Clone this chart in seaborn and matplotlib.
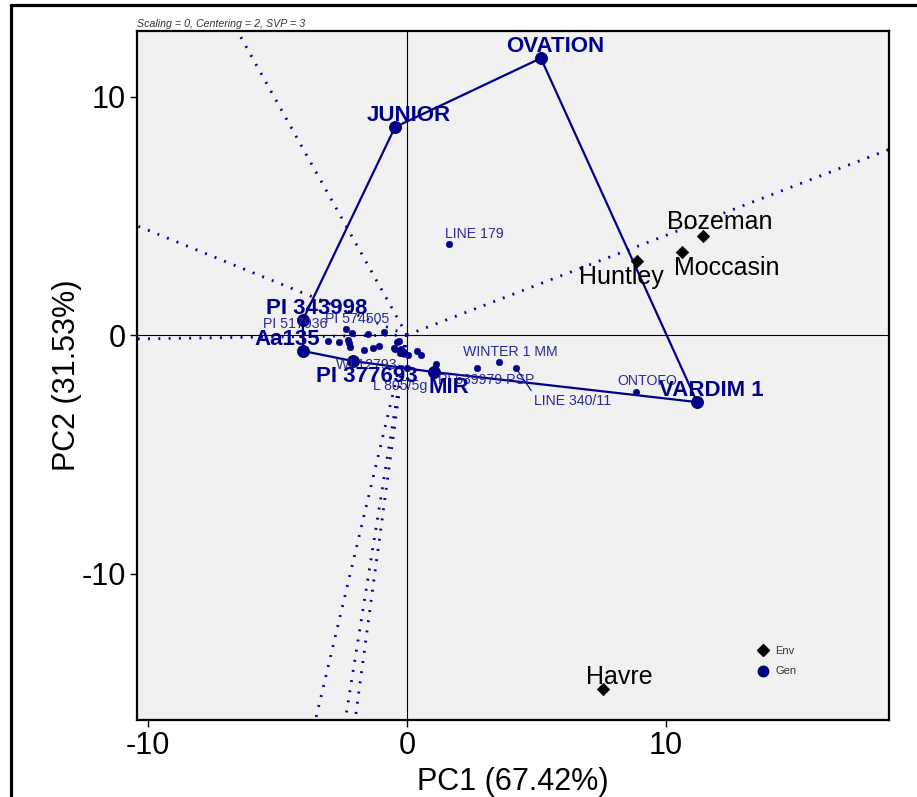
import numpy as np
import pandas as pd
import matplotlib
matplotlib.use("Agg")
import matplotlib.pyplot as plt
from matplotlib.lines import Line2D
import seaborn as sns

# ---- genotype scores (PC1, PC2) ----
gen_labels = [
    "OVATION", "JUNIOR", "PI 343998", "Aa135", "PI 377693", "MIR", "VARDIM 1",
    "LINE 179", "WINTER 1 MM", "PI 639979 PSP", "LINE 340/11", "ONTOFO",
    "PI 517936", "PI 574505", "WI 12793", "L 805/5g",
    "", "", "", "", "", "", "", "", "", "", "", "", "", "", "", "", "", "",
]
gen_pc1 = [
    5.17, -0.46, -4.02, -4.00, -2.08, 1.04, 11.20,
    1.62, 3.55, 2.70, 4.21, 8.84,
    -3.05, -1.51, -1.08, 0.00,
    -2.63, -2.36, -2.28, -2.24, -2.20, -2.12, -1.66, -1.31, -0.89, -0.50,
    -0.39, -0.31, -0.46, -0.23, -0.12, -0.27, 0.04, 0.39,
]
gen_pc2 = [
    11.61, 8.72, 0.63, -0.67, -1.09, -1.55, -2.81,
    3.82, -1.13, -1.38, -1.38, -2.39,
    -0.25, 0.04, -0.46, -1.36,
    -0.29, 0.25, -0.21, -0.34, -0.50, 0.08, -0.63, -0.55, 0.13, -0.55,
    -0.29, -0.25, -0.59, -0.59, -0.71, -0.75, -0.84, -0.67,
]
extra_pc1 = [0.54, 1.12]
extra_pc2 = [-0.84, -1.22]

# ---- environment scores ----
env_labels = ["Bozeman", "Moccasin", "Huntley", "Havre"]
env_pc1 = [11.44, 10.61, 8.89, 7.57]
env_pc2 = [4.16, 3.47, 3.10, -14.84]

x_ticks = [-10, 0, 10]
y_ticks = [-10, 0, 10]
x_title = "PC1 (67.42%)"
y_title = "PC2 (31.53%)"
subtitle = "Scaling = 0, Centering = 2, SVP = 3"

NAVY = "#00008B"

gen = pd.DataFrame({"label": gen_labels + [""] * len(extra_pc1),
                    "PC1": gen_pc1 + extra_pc1,
                    "PC2": gen_pc2 + extra_pc2})
env = pd.DataFrame({"label": env_labels, "PC1": env_pc1, "PC2": env_pc2})


def convex_hull(xy):
    """Indices of the convex hull (counter-clockwise, monotone chain)."""
    order = sorted(range(len(xy)), key=lambda i: (xy[i][0], xy[i][1]))

    def cross(o, a, b):
        return ((xy[a][0] - xy[o][0]) * (xy[b][1] - xy[o][1])
                - (xy[a][1] - xy[o][1]) * (xy[b][0] - xy[o][0]))

    lower, upper = [], []
    for i in order:
        while len(lower) >= 2 and cross(lower[-2], lower[-1], i) <= 0:
            lower.pop()
        lower.append(i)
    for i in reversed(order):
        while len(upper) >= 2 and cross(upper[-2], upper[-1], i) <= 0:
            upper.pop()
        upper.append(i)
    return lower[:-1] + upper[:-1]


pts = gen[["PC1", "PC2"]].to_numpy()
hull = convex_hull(pts.tolist())
gen["vertex"] = False
gen.loc[hull, "vertex"] = True

sns.set_theme(style="white")
plt.rcParams["font.family"] = ["Liberation Sans", "DejaVu Sans"]
plt.rcParams["axes.unicode_minus"] = False

fig = plt.figure(figsize=(9.17, 7.97), dpi=100)
ax = fig.add_axes([137 / 917, 1 - 720 / 797, 752 / 917, 689 / 797])
ax.set_facecolor("#F1F1F1")
ax.set_xlim(-10.42, 18.61)
ax.set_ylim(-16.14, 12.75)

# reference axes through the origin
ax.axhline(0, color="black", lw=0.8, zorder=1)
ax.axvline(0, color="black", lw=0.8, zorder=1)

# rays from the origin, perpendicular to every polygon side
for a, b in zip(hull, hull[1:] + hull[:1]):
    d = pts[b] - pts[a]
    n = np.array([d[1], -d[0]])
    n = n / np.hypot(*n) * 60
    ax.plot([0, n[0]], [0, n[1]], color=NAVY, lw=2.0,
            linestyle=(0, (0.7, 3.0)), zorder=2)

# polygon of the vertex genotypes
poly = pts[hull + hull[:1]]
ax.plot(poly[:, 0], poly[:, 1], color=NAVY, lw=1.6, zorder=3)

# points
sns.scatterplot(data=gen[~gen["vertex"]], x="PC1", y="PC2", ax=ax, s=22,
                color=NAVY, edgecolor=NAVY, linewidth=0.4, legend=False, zorder=4)
sns.scatterplot(data=gen[gen["vertex"]], x="PC1", y="PC2", ax=ax, s=75,
                color=NAVY, edgecolor="#000044", linewidth=0.6, legend=False, zorder=5)
sns.scatterplot(data=env, x="PC1", y="PC2", ax=ax, s=40, marker="D",
                color="black", edgecolor="black", legend=False, zorder=5)

# label offsets in pixels (dx, dy)
small_offsets = {
    "LINE 179": (25, 10), "PI 517936": (-33, 17), "PI 574505": (-11, 15),
    "WI 12793": (-13, -19), "L 805/5g": (-7, -18), "WINTER 1 MM": (11, 10),
    "PI 639979 PSP": (9, -12), "LINE 340/11": (57, -33), "ONTOFO": (11, 11),
}
big_offsets = {
    "OVATION": (14, 12), "JUNIOR": (14, 12), "PI 343998": (14, 12),
    "Aa135": (-16, 12), "PI 377693": (14, -15), "MIR": (15, -15),
    "VARDIM 1": (14, 12),
}
env_offsets = {
    "Bozeman": (16, 14), "Moccasin": (45, -16), "Huntley": (-16, -16),
    "Havre": (16, 12),
}

for _, r in gen.iterrows():
    if r["label"] in small_offsets:
        off = small_offsets[r["label"]]
        kw = {}
        if r["label"] == "LINE 340/11":
            kw["arrowprops"] = dict(arrowstyle="-", color=NAVY, lw=0.8,
                                    shrinkA=0, shrinkB=0, relpos=(0.0, 0.9))
        ax.annotate(r["label"], (r["PC1"], r["PC2"]), xytext=off,
                    textcoords="offset pixels", ha="center", va="center",
                    fontsize=10.2, color="#2A2A9A", zorder=6, **kw)

for _, r in gen.iterrows():
    if r["label"] in big_offsets:
        ax.annotate(r["label"], (r["PC1"], r["PC2"]), xytext=big_offsets[r["label"]],
                    textcoords="offset pixels", ha="center", va="center",
                    fontsize=16, fontweight="bold", color=NAVY, zorder=7)

for _, r in env.iterrows():
    ax.annotate(r["label"], (r["PC1"], r["PC2"]), xytext=env_offsets[r["label"]],
                textcoords="offset pixels", ha="center", va="center",
                fontsize=18, color="black", zorder=7)

# axes styling
ax.set_xticks(x_ticks)
ax.set_yticks(y_ticks)
ax.tick_params(axis="both", which="major", direction="out", length=5, width=1,
               color="black", labelsize=22, labelcolor="black", pad=3,
               bottom=True, left=True)
for sp in ax.spines.values():
    sp.set_color("black")
    sp.set_linewidth(1.6)
ax.set_xlabel(x_title, fontsize=22, color="black", labelpad=4)
ax.set_ylabel(y_title, fontsize=22, color="black", labelpad=0)

# legend
handles = [
    Line2D([], [], marker="D", color="black", linestyle="none", markersize=6),
    Line2D([], [], marker="o", color=NAVY, markeredgecolor="#000044",
           linestyle="none", markersize=7.5),
]
ax.legend(handles, ["Env", "Gen"], loc="upper left", bbox_to_anchor=(0.81, 0.122),
          frameon=False, fontsize=8, labelcolor="#333333", handletextpad=0.5,
          labelspacing=0.95, handlelength=1.2)

fig.text(137 / 917, 1 - 24 / 797, subtitle, fontsize=7.7, style="italic",
         color="#333333", ha="left", va="center")

# outer frame
fig.add_artist(Line2D([11 / 917, 11 / 917], [0, 1 - 5 / 797], color="black", lw=2.3))
fig.add_artist(Line2D([11 / 917, 1], [1 - 5 / 797, 1 - 5 / 797], color="black", lw=2.3))

fig.savefig("out.png", dpi=100, facecolor="white")
